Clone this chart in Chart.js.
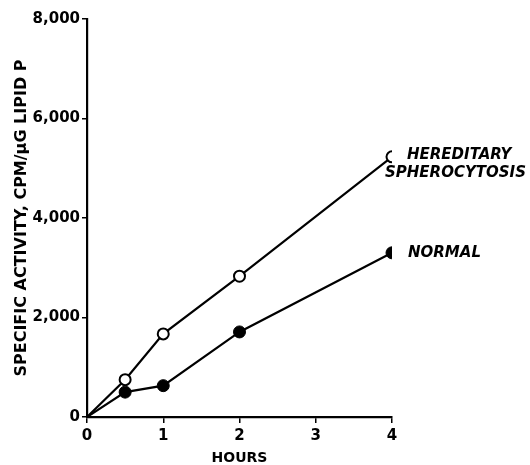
<!DOCTYPE html>
<html>
<head>
<meta charset="utf-8">
<script src="https://cdn.jsdelivr.net/npm/chart.js@4"></script>
<style>
  html, body { margin: 0; padding: 0; background: #fff; }
</style>
</head>
<body>
<canvas id="chart" width="530" height="465"></canvas>
<script>
const hours = [0, 0.5, 1, 2, 4];
const hsValues = [0, 750, 1670, 2830, 5230];
const normalValues = [0, 500, 630, 1710, 3300];
const yTicks = [0, 2000, 4000, 6000, 8000];
const xTicks = [0, 1, 2, 3, 4];

const fmtNum = new Intl.NumberFormat("en-US");
const tickFont = { family: "DejaVu Sans", weight: "bold", size: 15 };

const toPoints = (xs, ys) => xs.map((x, i) => ({ x, y: ys[i] }));

// series names drawn next to the last point of each line
const seriesLabelsPlugin = {
  id: "seriesLabels",
  afterDatasetsDraw(chart, _args, opts) {
    const { ctx } = chart;
    ctx.save();
    ctx.fillStyle = "#000";
    ctx.font = "italic bold 15px 'DejaVu Sans'";
    ctx.textBaseline = "middle";
    ctx.textAlign = "left";
    for (const lab of opts.labels) {
      const meta = chart.getDatasetMeta(lab.dataset);
      const last = meta.data[meta.data.length - 1];
      lab.lines.forEach((line) => {
        ctx.fillText(line.text, last.x + line.dx, last.y + line.dy);
      });
    }
    ctx.restore();
  }
};

const ctx = document.getElementById("chart").getContext("2d");
new Chart(ctx, {
  type: "scatter",
  data: {
    datasets: [
      {
        label: "Hereditary spherocytosis",
        data: toPoints(hours, hsValues),
        showLine: true,
        borderColor: "#000",
        borderWidth: 2.2,
        backgroundColor: "#fff",
        pointBackgroundColor: "#fff",
        pointBorderColor: "#000",
        pointBorderWidth: 2,
        pointRadius: [0, 5.5, 5.5, 5.5, 5.5]
      },
      {
        label: "Normal",
        data: toPoints(hours, normalValues),
        showLine: true,
        borderColor: "#000",
        borderWidth: 2.2,
        backgroundColor: "#000",
        pointBackgroundColor: "#000",
        pointBorderColor: "#000",
        pointBorderWidth: 1,
        pointRadius: [0, 6, 6, 6, 6]
      }
    ]
  },
  plugins: [seriesLabelsPlugin],
  options: {
    responsive: false,
    animation: false,
    layout: { padding: { top: 19, right: 138, left: 0, bottom: 0 } },
    plugins: {
      legend: { display: false },
      tooltip: { enabled: false },
      seriesLabels: {
        labels: [
          { dataset: 0, lines: [{ text: "HEREDITARY", dx: 15, dy: -2 }, { text: "SPHEROCYTOSIS", dx: -7, dy: 16 }] },
          { dataset: 1, lines: [{ text: "NORMAL", dx: 16, dy: 0 }] }
        ]
      }
    },
    scales: {
      x: {
        type: "linear",
        min: 0,
        max: 4,
        afterFit: (scale) => { scale.height = 48; },
        afterBuildTicks: (scale) => { scale.ticks = xTicks.map((v) => ({ value: v })); },
        border: { display: true, color: "#000", width: 2.2 },
        grid: { drawOnChartArea: false, drawTicks: true, tickLength: 6, color: "#000", lineWidth: 1.5 },
        ticks: { color: "#000", font: tickFont, padding: 4, maxRotation: 0 },
        title: { display: true, text: "HOURS", color: "#000", font: { family: "DejaVu Sans", weight: "bold", size: 14, lineHeight: 0.9 }, padding: { top: 6, bottom: 0 } }
      },
      y: {
        type: "linear",
        min: 0,
        max: 8000,
        afterFit: (scale) => { scale.width = 87; },
        afterBuildTicks: (scale) => { scale.ticks = yTicks.map((v) => ({ value: v })); },
        border: { display: true, color: "#000", width: 2.2 },
        grid: { drawOnChartArea: false, drawTicks: true, tickLength: 5, color: "#000", lineWidth: 1.5 },
        ticks: { color: "#000", font: tickFont, padding: 2, callback: (v) => fmtNum.format(v) },
        title: { display: true, text: "SPECIFIC ACTIVITY, CPM/\u00B5G LIPID P", color: "#000", font: { family: "DejaVu Sans", weight: "bold", size: 16 }, padding: { top: 12, bottom: 4 } }
      }
    }
  }
});
</script>
</body>
</html>
